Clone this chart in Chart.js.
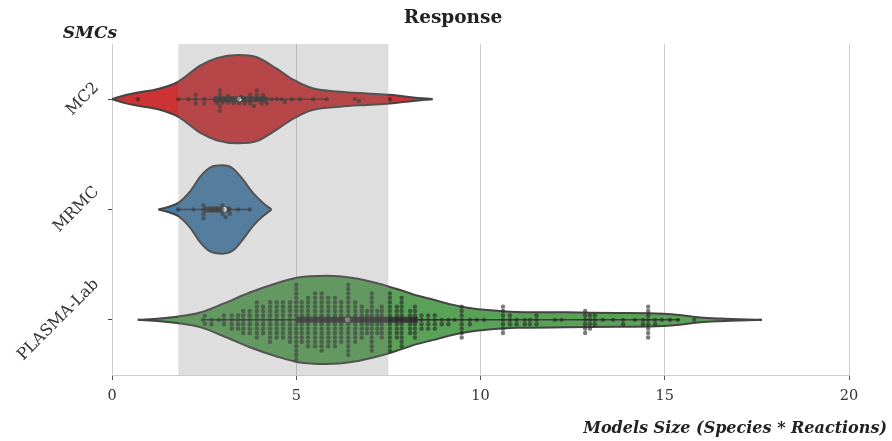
<!DOCTYPE html>
<html lang="en">
<head>
<meta charset="UTF-8">
<title>Response</title>
<script src="https://cdn.jsdelivr.net/npm/chart.js"></script>
<style>
  html, body { margin: 0; padding: 0; background: #fff; }
</style>
</head>
<body>
<canvas id="chart" width="892" height="441"></canvas>
<script>
const categories = ["MC2", "MRMC", "PLASMA-Lab"];
const xTicks = [0, 5, 10, 15, 20];
const band = [1.8, 7.5];

// violin outlines: x position and relative half-width (1 = widest)
const mc2ViolinX = [0.0, 0.35, 0.7, 1.25, 1.8, 2.39, 2.84, 3.42, 3.93, 4.47, 4.92, 5.46, 6.19, 6.92, 7.54, 8.17, 8.7];
const mc2ViolinW = [0.0, 0.09, 0.15, 0.23, 0.40, 0.76, 0.93, 1.0, 0.95, 0.69, 0.44, 0.24, 0.17, 0.13, 0.10, 0.04, 0.0];
const mrmcViolinX = [1.26, 1.5, 1.8, 2.12, 2.39, 2.66, 3.0, 3.28, 3.56, 3.83, 4.1, 4.33];
const mrmcViolinW = [0.0, 0.05, 0.15, 0.41, 0.74, 0.95, 1.0, 0.93, 0.67, 0.37, 0.15, 0.0];
const plasmaViolinX = [0.7, 1.3, 1.8, 2.39, 3.0, 3.74, 4.47, 5.05, 5.83, 6.54, 7.2, 7.8, 8.27, 8.7, 9.2, 9.7, 10.1, 11.0, 12.35, 13.7, 14.6, 15.4, 15.96, 16.5, 17.64];
const plasmaViolinW = [0.0, 0.03, 0.075, 0.165, 0.36, 0.62, 0.83, 0.96, 1.0, 0.95, 0.83, 0.68, 0.55, 0.46, 0.35, 0.27, 0.23, 0.18, 0.17, 0.155, 0.15, 0.11, 0.055, 0.03, 0.0];

// inner box per category
const whiskerLow = [1.8, 1.8, 2.47];
const boxQ1 = [2.75, 2.5, 5.0];
const boxMedian = [3.45, 3.05, 6.4];
const boxQ3 = [4.2, 3.2, 8.3];
const whiskerHigh = [5.83, 3.75, 15.4];

// swarm points
const mc2Points = [0.7, 1.8, 2.07, 2.27, 2.27, 2.27, 2.5, 2.5, 2.8, 2.85, 2.93, 2.93, 2.93, 2.93, 2.93, 3.0, 3.07, 3.15, 3.15, 3.25, 3.3, 3.4, 3.45, 3.5, 3.6, 3.6, 3.75, 3.75, 3.75, 3.85, 3.93, 3.93, 3.93, 4.06, 4.06, 4.1, 4.2, 4.2, 4.33, 4.47, 4.6, 4.69, 4.88, 5.1, 5.46, 5.83, 6.59, 6.7, 7.54];
const mrmcPoints = [1.8, 2.21, 2.48, 2.48, 2.48, 2.48, 2.7, 2.85, 3.0, 3.0, 3.0, 3.08, 3.2, 3.2, 3.42, 3.74];
const plasmaValues = [2.47, 2.52, 2.7, 2.9, 3.04, 3.25, 3.42, 3.56, 3.74, 3.93, 4.1, 4.29, 4.47, 4.64, 4.83, 5.0, 5.15, 5.32, 5.51, 5.69, 5.87, 6.05, 6.22, 6.41, 6.6, 6.78, 6.92, 7.05, 7.2, 7.32, 7.54, 7.73, 7.86, 8.09, 8.22, 8.4, 8.58, 8.76, 8.95, 9.13, 9.3, 9.49, 9.71, 9.9, 10.1, 10.61, 10.8, 10.98, 11.2, 11.34, 11.52, 12.02, 12.2, 12.84, 12.97, 13.1, 13.32, 13.6, 13.87, 14.19, 14.41, 14.55, 14.74, 14.92, 15.14, 15.36, 15.8];
const plasmaCounts = [1, 2, 2, 1, 3, 4, 4, 6, 6, 9, 7, 10, 9, 9, 10, 18, 10, 12, 13, 14, 12, 12, 10, 17, 10, 8, 6, 14, 6, 8, 14, 8, 12, 6, 8, 4, 4, 4, 2, 2, 1, 8, 2, 1, 1, 7, 3, 2, 2, 2, 3, 1, 1, 6, 4, 3, 1, 1, 2, 1, 2, 8, 2, 1, 1, 1, 1];

const fillColors = ["#cb3335", "#477ca8", "#59a257"];
const FONT = "'DejaVu Serif', serif";
Chart.defaults.font.family = FONT;

const plasmaPoints = [];
plasmaValues.forEach((v, i) => { for (let k = 0; k < plasmaCounts[i]; k++) plasmaPoints.push(v); });
const pointsByCat = [mc2Points, mrmcPoints, plasmaPoints];
const profiles = [[mc2ViolinX, mc2ViolinW], [mrmcViolinX, mrmcViolinW], [plasmaViolinX, plasmaViolinW]];

const datasets = [];
profiles.forEach(([xs, ws], i) => {
  // upper edge fills down to the lower edge (next dataset)
  datasets.push({type: "line", data: xs.map((x, k) => ({x: x, y: i - 0.4 * ws[k]})), fill: "+1",
    backgroundColor: fillColors[i], borderColor: "#444", borderWidth: 2, pointRadius: 0,
    cubicInterpolationMode: "monotone", order: 7});
  datasets.push({type: "line", data: xs.map((x, k) => ({x: x, y: i + 0.4 * ws[k]})), fill: false,
    borderColor: "#444", borderWidth: 2, pointRadius: 0, cubicInterpolationMode: "monotone", order: 6});
  datasets.push({type: "line", data: [{x: whiskerLow[i], y: i}, {x: whiskerHigh[i], y: i}], fill: false,
    borderColor: "#3a3a3a", borderWidth: 1.5, pointRadius: 0, order: 4});
  datasets.push({type: "line", data: [{x: boxQ1[i], y: i}, {x: boxQ3[i], y: i}], fill: false,
    borderColor: "#3a3a3a", borderWidth: 6, pointRadius: 0, order: 3});
});
datasets.push({type: "scatter", data: boxMedian.map((m, i) => ({x: m, y: i})), pointRadius: 2.4,
  backgroundColor: "#ffffff", borderWidth: 0, order: 2});
datasets.push({type: "scatter", data: [], pointRadius: 2.2, backgroundColor: "rgba(40,40,40,0.62)",
  borderWidth: 0, order: 1});

const decor = {
  id: "decor",
  afterDatasetsDraw(chart) {
    const {ctx, chartArea, scales} = chart;
    const x0 = scales.x.getPixelForValue(band[0]), x1 = scales.x.getPixelForValue(band[1]);
    ctx.save();
    ctx.fillStyle = "rgba(128,128,128,0.26)";
    ctx.fillRect(x0, chartArea.top, x1 - x0, chartArea.bottom - chartArea.top);
    ctx.restore();
  },
  afterDraw(chart) {
    const {ctx, chartArea, scales} = chart;
    const ys = scales.y;
    ctx.save();
    ctx.fillStyle = "#333";
    ctx.font = "16px " + FONT;
    ctx.textAlign = "center";
    ctx.textBaseline = "middle";
    categories.forEach((c, i) => {
      const w = ctx.measureText(c).width, h = 13;
      const bw = (w + h) * Math.SQRT1_2;
      const cx = ys.right - 11 - bw / 2, cy = ys.getPixelForValue(i);
      ctx.save();
      ctx.translate(cx, cy);
      ctx.rotate(-Math.PI / 4);
      ctx.fillText(c, 0, 0);
      ctx.restore();
    });
    ctx.fillStyle = "#222";
    ctx.font = "italic bold 17px " + FONT;
    ctx.textBaseline = "alphabetic";
    ctx.textAlign = "right";
    ctx.fillText("SMCs", chartArea.left + 5, chartArea.top - 6);
    ctx.font = "italic bold 16px " + FONT;
    ctx.fillText("Models Size (Species * Reactions)", chart.width - 5, chart.height - 8);
    ctx.restore();
  }
};

const chart = new Chart(document.getElementById("chart"), {
  type: "scatter",
  data: {datasets: datasets},
  options: {
    responsive: false,
    animation: false,
    events: [],
    layout: {padding: {left: 57, right: 43, top: 0, bottom: 0}},
    plugins: {
      legend: {display: false},
      tooltip: {enabled: false},
      title: {display: true, text: "Response", color: "#222",
        font: {size: 18.5, weight: "bold"}, padding: {top: 7, bottom: 14.8}}
    },
    scales: {
      x: {
        type: "linear", min: 0, max: 20,
        afterBuildTicks: s => { s.ticks = xTicks.map(v => ({value: v})); },
        afterFit: s => { s.height = 66; },
        ticks: {color: "#333", font: {size: 14.5}, padding: 8},
        grid: {color: "#cccccc", tickColor: "#555", tickLength: 5},
        border: {color: "#cccccc"}
      },
      y: {
        type: "linear", min: -0.5, max: 2.5, reverse: true,
        afterBuildTicks: s => { s.ticks = categories.map((c, i) => ({value: i})); },
        afterFit: s => { s.width = 55; },
        ticks: {display: false},
        grid: {drawOnChartArea: false, tickColor: "#444", tickLength: 4},
        border: {display: false}
      }
    }
  },
  plugins: [decor]
});

// beeswarm layout in pixel space
const xs = chart.scales.x, ys = chart.scales.y;
const unitY = Math.abs(ys.getPixelForValue(1) - ys.getPixelForValue(0));
const D = 4.4;
const swarm = [];
pointsByCat.forEach((vals, i) => {
  const placed = [];
  vals.slice().sort((a, b) => a - b).forEach(v => {
    const px = xs.getPixelForValue(v);
    const near = placed.filter(p => Math.abs(p.px - px) < D);
    const cands = [0];
    near.forEach(p => {
      const dy = Math.sqrt(D * D - (p.px - px) ** 2);
      cands.push(p.off + dy, p.off - dy);
    });
    cands.sort((a, b) => Math.abs(a) - Math.abs(b));
    const off = cands.find(c => near.every(p => (p.px - px) ** 2 + (p.off - c) ** 2 >= D * D - 1e-6));
    placed.push({px: px, off: off});
    swarm.push({x: v, y: i + off / unitY});
  });
});
chart.data.datasets[datasets.length - 1].data = swarm;
chart.update("none");
</script>
</body>
</html>
